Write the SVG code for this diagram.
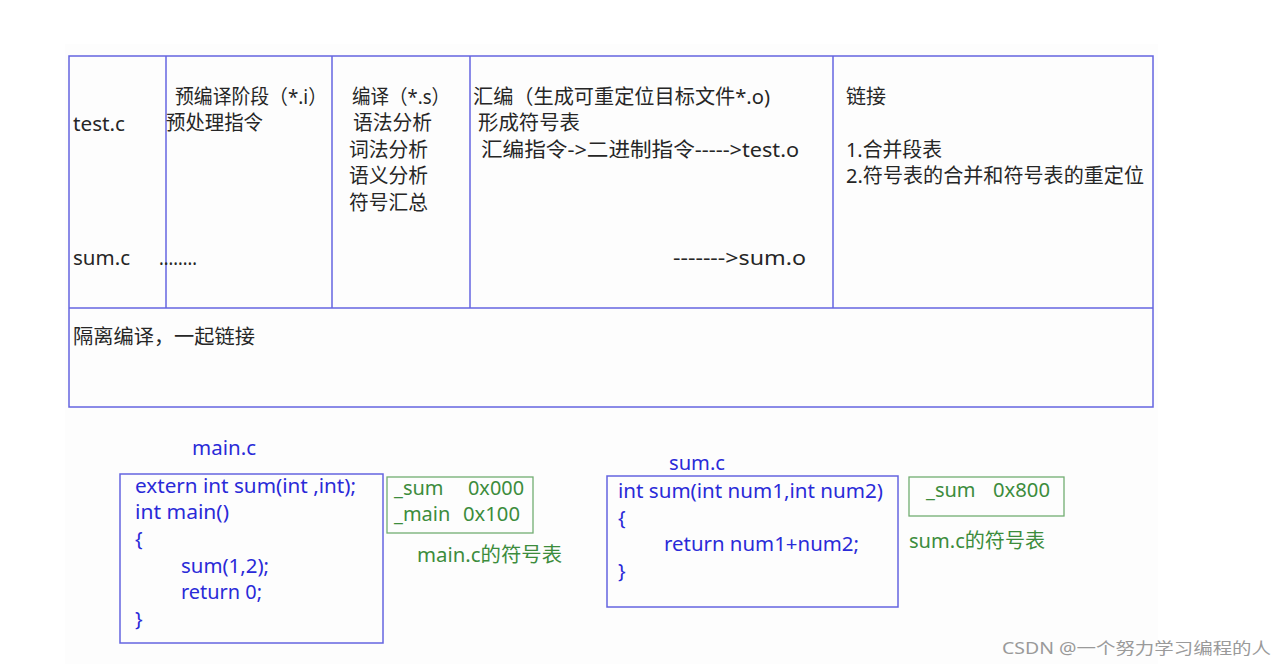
<svg xmlns="http://www.w3.org/2000/svg" width="1288" height="668" viewBox="0 0 1288 668">
<style>
text{font-family:"Noto Sans","Noto Sans CJK SC",sans-serif;font-size:20px}
.k{fill:#262626}
.b{fill:#2a2ad8}
.g{fill:#3c8c3c}
.ln{fill:none;stroke:#6464e0;stroke-width:1.5}
.gb{fill:none;stroke:#72ae72;stroke-width:1.3}
.wm{fill:#9a9a9a;font-size:16px}
</style>
<rect width="1288" height="668" fill="#ffffff"/>
<rect x="65" y="44" width="1093" height="620" fill="#fdfdfd"/>
<g id="table">
<rect class="ln" x="69" y="56" width="1084" height="351" fill="#ffffff"/>
<line class="ln" x1="69" y1="308" x2="1153" y2="308"/>
<line class="ln" x1="166" y1="56" x2="166" y2="308"/>
<line class="ln" x1="332" y1="56" x2="332" y2="308"/>
<line class="ln" x1="470" y1="56" x2="470" y2="308"/>
<line class="ln" x1="833" y1="56" x2="833" y2="308"/>
<text class="k" x="73" y="131" textLength="52" lengthAdjust="spacingAndGlyphs">test.c</text>
<text class="k" x="73" y="265" textLength="57" lengthAdjust="spacingAndGlyphs">sum.c</text>
<text class="k" x="175" y="104" textLength="152" lengthAdjust="spacingAndGlyphs">预编译阶段（*.i）</text>
<text class="k" x="166" y="130" textLength="97" lengthAdjust="spacingAndGlyphs">预处理指令</text>
<text class="k" x="159" y="265" textLength="38" lengthAdjust="spacingAndGlyphs">........</text>
<text class="k" x="352" y="104" textLength="98" lengthAdjust="spacingAndGlyphs">编译（*.s）</text>
<text class="k" x="353" y="130" textLength="79" lengthAdjust="spacingAndGlyphs">语法分析</text>
<text class="k" x="349" y="157" textLength="79" lengthAdjust="spacingAndGlyphs">词法分析</text>
<text class="k" x="349" y="183" textLength="79" lengthAdjust="spacingAndGlyphs">语义分析</text>
<text class="k" x="349" y="210" textLength="79" lengthAdjust="spacingAndGlyphs">符号汇总</text>
<text class="k" x="473" y="104" textLength="297" lengthAdjust="spacingAndGlyphs">汇编（生成可重定位目标文件*.o)</text>
<text class="k" x="478" y="130" textLength="102" lengthAdjust="spacingAndGlyphs">形成符号表</text>
<text class="k" x="481" y="157" textLength="318" lengthAdjust="spacingAndGlyphs">汇编指令-&gt;二进制指令-----&gt;test.o</text>
<text class="k" x="673" y="265" textLength="133" lengthAdjust="spacingAndGlyphs">-------&gt;sum.o</text>
<text class="k" x="846" y="104" textLength="40" lengthAdjust="spacingAndGlyphs">链接</text>
<text class="k" x="846" y="157" textLength="96" lengthAdjust="spacingAndGlyphs">1.合并段表</text>
<text class="k" x="846" y="183" textLength="298" lengthAdjust="spacingAndGlyphs">2.符号表的合并和符号表的重定位</text>
<text class="k" x="73" y="344" textLength="182" lengthAdjust="spacingAndGlyphs">隔离编译，一起链接</text>
</g>
<g id="main-c">
<text class="b" x="192" y="455" textLength="64" lengthAdjust="spacingAndGlyphs">main.c</text>
<rect class="ln" x="120" y="474" width="263" height="169"/>
<text class="b" x="135" y="493" textLength="221" lengthAdjust="spacingAndGlyphs">extern int sum(int ,int);</text>
<text class="b" x="135" y="519" textLength="94" lengthAdjust="spacingAndGlyphs">int main()</text>
<text class="b" x="135" y="546">{</text>
<text class="b" x="181" y="573" textLength="88" lengthAdjust="spacingAndGlyphs">sum(1,2);</text>
<text class="b" x="181" y="599" textLength="81" lengthAdjust="spacingAndGlyphs">return 0;</text>
<text class="b" x="135" y="626">}</text>
</g>
<g id="main-symtab">
<rect class="gb" x="387" y="477" width="146" height="56"/>
<text class="g" x="394" y="495">_sum</text>
<text class="g" x="468" y="495" textLength="56" lengthAdjust="spacingAndGlyphs">0x000</text>
<text class="g" x="394" y="521">_main</text>
<text class="g" x="463" y="521" textLength="57" lengthAdjust="spacingAndGlyphs">0x100</text>
<text class="g" x="417" y="562" textLength="145" lengthAdjust="spacingAndGlyphs">main.c的符号表</text>
</g>
<g id="sum-c">
<text class="b" x="669" y="470" textLength="56" lengthAdjust="spacingAndGlyphs">sum.c</text>
<rect class="ln" x="607" y="476" width="291" height="131"/>
<text class="b" x="618" y="498" textLength="265" lengthAdjust="spacingAndGlyphs">int sum(int num1,int num2)</text>
<text class="b" x="618" y="525">{</text>
<text class="b" x="664" y="551" textLength="195" lengthAdjust="spacingAndGlyphs">return num1+num2;</text>
<text class="b" x="618" y="578">}</text>
</g>
<g id="sum-symtab">
<rect class="gb" x="909" y="477" width="155" height="39"/>
<text class="g" x="926" y="497">_sum</text>
<text class="g" x="993" y="497" textLength="57" lengthAdjust="spacingAndGlyphs">0x800</text>
<text class="g" x="909" y="548" textLength="136" lengthAdjust="spacingAndGlyphs">sum.c的符号表</text>
</g>
<g id="connectors"></g>
<text class="wm" x="1002" y="654" textLength="269" lengthAdjust="spacingAndGlyphs">CSDN @一个努力学习编程的人</text>
</svg>
